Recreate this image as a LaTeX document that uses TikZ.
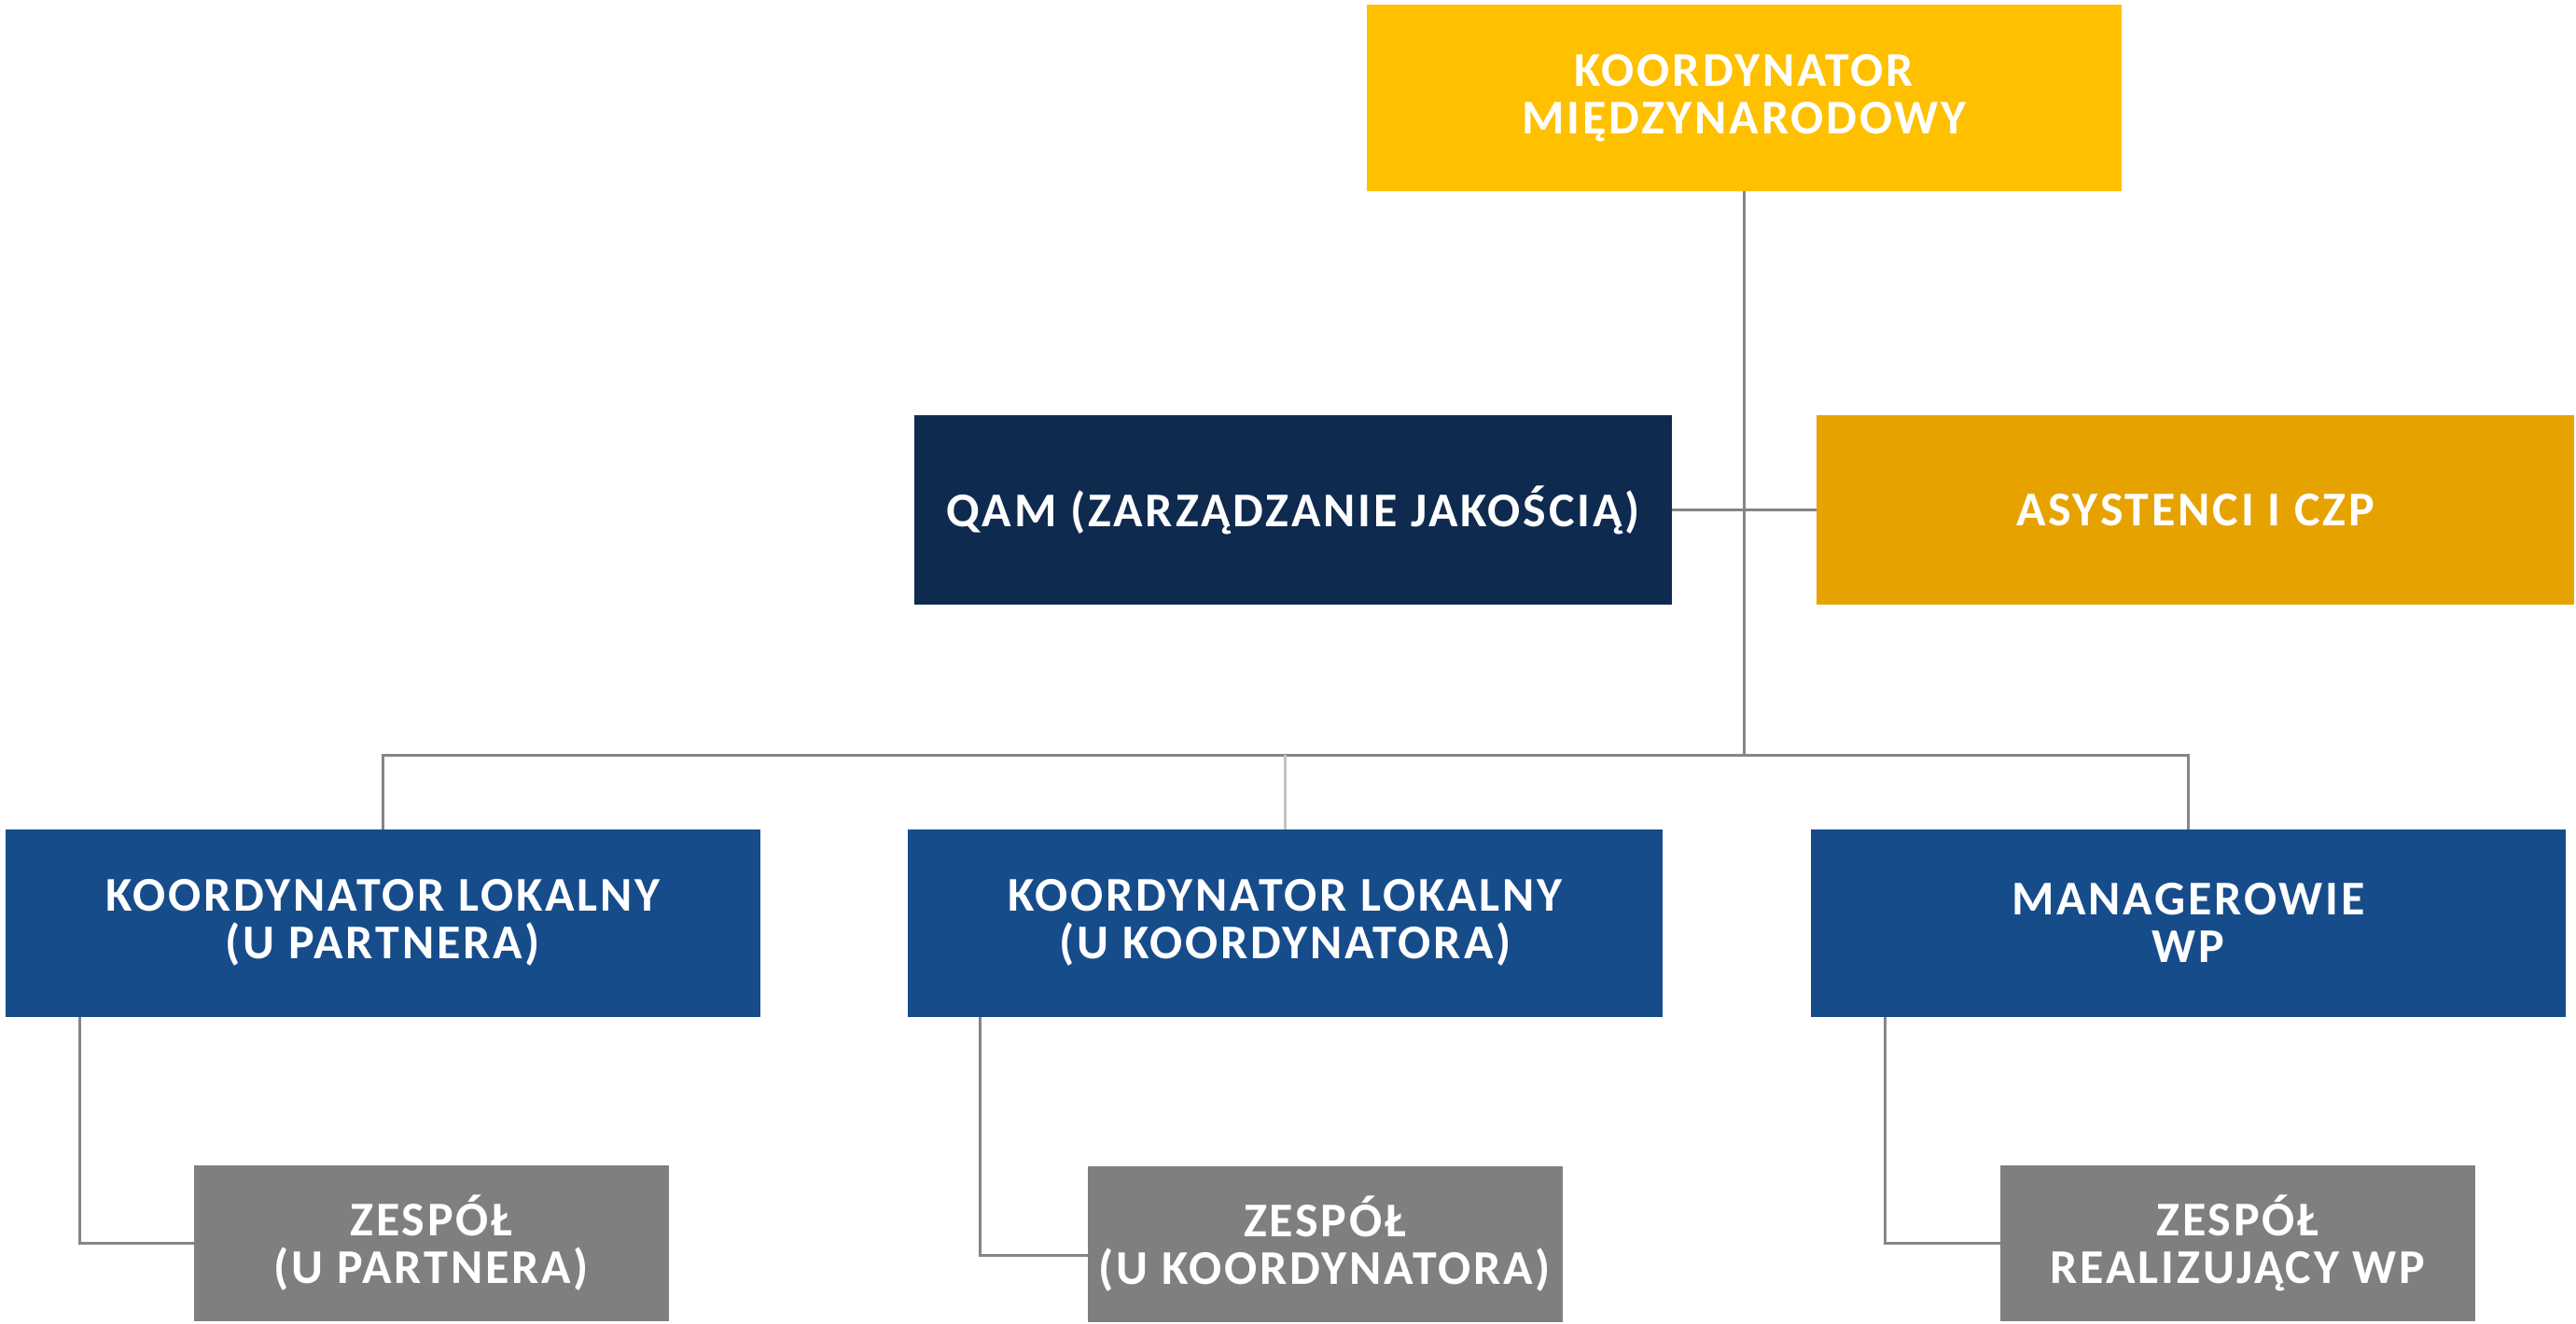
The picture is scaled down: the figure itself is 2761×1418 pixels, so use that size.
\documentclass[tikz,border=0pt]{standalone}
\usepackage{fontspec}
\setmainfont[LetterSpace=5.5]{Carlito}
\definecolor{topY}{HTML}{FFC000}
\definecolor{asysY}{HTML}{E6A300}
\definecolor{navyQ}{HTML}{0E2A4F}
\definecolor{blueK}{HTML}{174C8B}
\definecolor{grayZ}{HTML}{7F7F7F}
\definecolor{lineG}{HTML}{858585}
\definecolor{lineL}{HTML}{C3C3C3}
\tikzset{
  box/.style={rectangle, inner sep=0pt, outer sep=0pt, align=center,
    text=white, font=\fontsize{26}{25.5}\selectfont\bfseries},
  bigbox/.style={box, minimum width=404.5pt, minimum height=100.5pt},
  smallbox/.style={box, fill=grayZ, minimum width=254.5pt, minimum height=83.5pt},
  conn/.style={draw=lineG, line width=1.5pt},
  connl/.style={draw=lineL, line width=1.5pt}
}
\begin{document}
\begin{tikzpicture}[x=0.5pt,y=-0.5pt]
\useasboundingbox (0,0) rectangle (2761,1418);
\node[bigbox, fill=topY, minimum height=100pt] (top) at (1869.5,105) {KOORDYNATOR\\MIĘDZYNARODOWY};
\node[bigbox, fill=navyQ, minimum width=406pt, minimum height=101.5pt] (qam) at (1386,546.5) {QAM (ZARZĄDZANIE JAKOŚCIĄ)};
\node[bigbox, fill=asysY, minimum width=406pt, minimum height=101.5pt] (asys) at (2353,546.5) {ASYSTENCI I CZP};
\node[bigbox, fill=blueK] (k1) at (410.5,989) {KOORDYNATOR LOKALNY\\(U PARTNERA)};
\node[bigbox, fill=blueK] (k2) at (1377.5,989) {KOORDYNATOR LOKALNY\\(U KOORDYNATORA)};
\node[bigbox, fill=blueK] (k3) at (2345.5,989) {MANAGEROWIE\\WP};
\node[smallbox] (z1) at (462.5,1332.5) {ZESPÓŁ\\(U PARTNERA)};
\node[smallbox] (z2) at (1420,1333.5) {ZESPÓŁ\\(U KOORDYNATORA)};
\node[smallbox] (z3) at (2398.5,1332.5) {ZESPÓŁ\\REALIZUJĄCY WP};
\coordinate (bus) at (1869,809);
% main trunk
\draw[conn] (top.south) -- (top.south |- bus);
\draw[conn] (qam.east) -- (asys.west);
\draw[conn] (k1.north) -- (k1.north |- bus) -- (k3.north |- bus) -- (k3.north);
\draw[connl] (k2.north |- bus) -- (k2.north);
% lower connectors
\draw[conn] ([xshift=-162.75pt]k1.south) |- (z1.west);
\draw[conn] ([xshift=-163.75pt]k2.south) |- ([yshift=-5.75pt]z2.west);
\draw[conn] ([xshift=-162.75pt]k3.south) |- (z3.west);
\end{tikzpicture}
\end{document}
